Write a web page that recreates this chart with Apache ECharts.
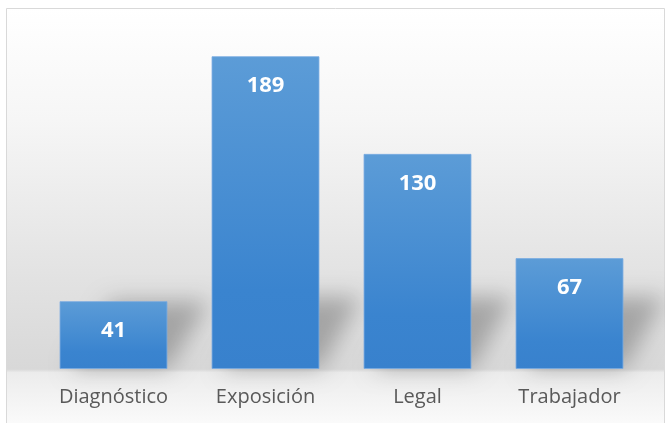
<!DOCTYPE html>
<html>
<head>
<meta charset="utf-8">
<script src="https://cdn.jsdelivr.net/npm/echarts@6/dist/echarts.min.js"></script>
<style>
  html, body { margin: 0; padding: 0; background: #ffffff; }
  #chart { width: 665px; height: 423px; }
</style>
</head>
<body>
<div id="chart"></div>
<script>
// 数据
const categories = ['Diagnóstico', 'Exposición', 'Legal', 'Trabajador']
const counts = [41, 189, 130, 67]

const chart = echarts.init(document.getElementById('chart'))

const barGap = '29%'
const barRatio = 0.71

// 柱子后面的斜影
const renderShadow = (params, api) => {
  const idx = api.value(0)
  const val = api.value(1)
  const top = api.coord([idx, val])
  const base = api.coord([idx, 0])
  const bw = api.size([1, 0])[0] * barRatio
  const xl = top[0] - bw / 2
  const xr = top[0] + bw / 2
  const y0 = base[1]
  const hs = Math.min(y0 - top[1], 72)
  const off = 3000
  return {
    type: 'polygon',
    shape: {
      points: [
        [xl + 10 + off, y0],
        [xr + off, y0],
        [xr + 42 + off, y0 - hs],
        [xl + 52 + off, y0 - hs]
      ]
    },
    style: {
      fill: 'rgba(0,0,0,1)',
      shadowColor: 'rgba(0,0,0,0.26)',
      shadowBlur: 22,
      shadowOffsetX: -off,
      shadowOffsetY: 0
    }
  }
}

const option = {
  animation: false,
  backgroundColor: '#ffffff',
  graphic: [
    {
      type: 'rect',
      z: -10,
      shape: { x: 6.5, y: 8.5, width: 658, height: 430 },
      style: {
        fill: new echarts.graphic.LinearGradient(0, 0, 0, 1, [
          { offset: 0, color: '#ffffff' },
          { offset: 0.26, color: '#f6f6f6' },
          { offset: 0.63, color: '#e2e2e2' },
          { offset: 0.838, color: '#d8d8d8' },
          { offset: 0.846, color: '#ececec' },
          { offset: 0.97, color: '#fbfbfb' },
          { offset: 1, color: '#ffffff' }
        ]),
        stroke: '#d9d9d9',
        lineWidth: 1
      }
    }
  ],
  grid: {
    left: 37.5,
    right: 19.5,
    top: 38,
    bottom: 54
  },
  xAxis: {
    type: 'category',
    data: categories,
    axisLine: { show: false },
    axisTick: { show: false },
    axisLabel: {
      color: '#595959',
      fontFamily: 'Open Sans',
      fontSize: 20,
      margin: 18
    }
  },
  yAxis: {
    type: 'value',
    min: 0,
    max: 200,
    show: false,
    splitLine: { show: false }
  },
  series: [
    {
      type: 'custom',
      z: 1,
      silent: true,
      clip: false,
      renderItem: renderShadow,
      data: counts.map((v, i) => [i, v])
    },
    {
      type: 'bar',
      z: 3,
      barCategoryGap: barGap,
      data: counts,
      itemStyle: {
        color: new echarts.graphic.LinearGradient(0, 0, 0, 1, [
          { offset: 0, color: '#5c9cd7' },
          { offset: 0.75, color: '#3a84cf' },
          { offset: 1, color: '#3881cd' }
        ]),
        borderColor: 'rgba(120,170,225,0.8)',
        borderWidth: 1
      },
      label: {
        show: true,
        position: 'insideTop',
        distance: 19,
        color: '#ffffff',
        fontFamily: 'Open Sans',
        fontWeight: 'bold',
        fontSize: 22
      }
    }
  ]
}

chart.setOption(option)
</script>
</body>
</html>
